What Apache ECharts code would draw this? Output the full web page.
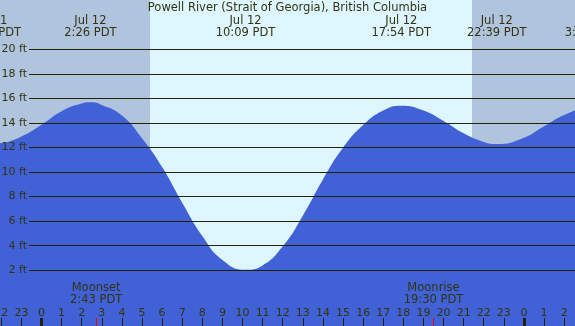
<!DOCTYPE html>
<html>
<head>
<meta charset="utf-8">
<script src="https://cdn.jsdelivr.net/npm/echarts@6/dist/echarts.min.js"></script>
<style>
  html, body { margin: 0; padding: 0; background: #fff; }
  #chart { width: 575px; height: 326px; }
</style>
</head>
<body>
<div id="chart"></div>
<script>
// 潮高曲线（小时，以 7 月 12 日 0 点为 0）
const tideHours = [-3, -2.5, -2, -1, 0, 1, 2, 2.43, 3, 4, 5, 6, 7, 8, 9, 10.15, 11, 12, 13, 14, 15, 16, 17, 17.9, 19, 20, 21, 22, 22.65, 24, 25, 26, 27, 27.33];
const tideHeights = [12.4, 12.3, 12.36, 12.9, 13.85, 14.95, 15.58, 15.67, 15.45, 14.6, 12.75, 10.4, 7.5, 4.8, 2.85, 2.05, 2.4, 3.95, 6.45, 9.4, 11.97, 13.82, 15.0, 15.39, 15.0, 14.15, 13.15, 12.45, 12.28, 12.8, 13.72, 14.64, 15.15, 15.18];

// 高低潮时刻
const extremeDates = ['Jul 11', 'Jul 12', 'Jul 12', 'Jul 12', 'Jul 12', 'Jul 13'];
const extremeTimes = ['21:30', '2:26', '10:09', '17:54', '22:39', '3:20'];
const extremeDays = [-1, 0, 0, 0, 0, 1];

// 日出日落
const sunTimes = ['5:24', '21:25'];

// 月落月出
const moonNames = ['Moonset', 'Moonrise'];
const moonTimes = ['2:43', '19:30'];

// 刻度
const hourTicks = [-2, -1, 0, 1, 2, 3, 4, 5, 6, 7, 8, 9, 10, 11, 12, 13, 14, 15, 16, 17, 18, 19, 20, 21, 22, 23, 24, 25, 26];
const midnightTicks = [0, 24];
const heightMin = 2;
const heightMax = 20;
const heightStep = 2;

const toHour = (t, day) => {
  const [hh, mm] = t.split(':').map(Number);
  return (day || 0) * 24 + hh + mm / 60;
};

const extremeHours = extremeTimes.map((t, i) => toHour(t, extremeDays[i]));
const sunrise = toHour(sunTimes[0]);
const sunset = toHour(sunTimes[1]);
const moonHours = moonTimes.map(t => toHour(t));

// 画布外扩，让边缘的标签也能画出来
const xMin = -4.055;
const xMax = 29.525;
const yMin = -2.53;
const yMax = 24.0;

const textColor = '#333311';
const lineColor = '#22220a';
const nightColor = '#b0c4de';
const dayColor = '#ddf6ff';
const waterColor = '#4162d6';

const chart = echarts.init(document.getElementById('chart'));

const baseX = {
  type: 'value',
  gridIndex: 0,
  min: xMin,
  max: xMax,
  position: 'bottom',
  z: 5,
  axisLine: { show: false },
  splitLine: { show: false },
  axisTick: { show: false },
  axisLabel: { show: false }
};

chart.setOption({
  animation: false,
  textStyle: { fontFamily: 'DejaVu Sans' },
  title: {
    text: 'Powell River (Strait of Georgia), British Columbia',
    left: 'center',
    top: 2,
    padding: 0,
    textStyle: { fontSize: 11.5, fontWeight: 'normal', color: textColor }
  },
  grid: [
    { left: -40, right: -60, top: 0, bottom: 0, outerBoundsMode: 'none', containLabel: false },
    { left: 29, right: 0, top: 49.3, height: 221, outerBoundsMode: 'none', containLabel: false }
  ],
  xAxis: [
    // 数据用的轴
    Object.assign({}, baseX),
    // 整点刻度
    Object.assign({}, baseX, {
      axisTick: {
        show: true, inside: true, length: 8, customValues: hourTicks,
        lineStyle: { color: lineColor, width: 1 }
      },
      axisLabel: {
        show: true, inside: true, margin: 7.5, customValues: hourTicks,
        fontSize: 11, color: textColor, hideOverlap: false,
        formatter: v => String(((Math.round(v) % 24) + 24) % 24)
      }
    }),
    // 午夜
    Object.assign({}, baseX, {
      axisTick: {
        show: true, inside: true, length: 8, customValues: midnightTicks,
        lineStyle: { color: lineColor, width: 3 }
      }
    }),
    // 月落月出
    Object.assign({}, baseX, {
      axisTick: {
        show: true, inside: true, length: 8, customValues: moonHours,
        lineStyle: { color: '#ee0000', width: 1 }
      },
      axisLabel: {
        show: true, inside: true, margin: 19.5, customValues: moonHours,
        fontSize: 11.5, lineHeight: 12, color: textColor,
        formatter: v => {
          const i = moonHours.findIndex(h => Math.abs(h - v) < 1e-6);
          return moonNames[i] + '\n' + moonTimes[i] + ' PDT';
        }
      }
    }),
    // 高低潮标注
    Object.assign({}, baseX, {
      position: 'top',
      axisLabel: {
        show: true, inside: true, margin: 15, customValues: extremeHours,
        fontSize: 11.5, lineHeight: 12, color: textColor,
        formatter: v => {
          const i = extremeHours.findIndex(h => Math.abs(h - v) < 1e-6);
          return extremeDates[i] + '\n' + extremeTimes[i] + ' PDT';
        }
      }
    }),
    { type: 'value', gridIndex: 1, min: 0, max: 1, show: false }
  ],
  yAxis: [
    {
      type: 'value', gridIndex: 0, min: yMin, max: yMax, show: false
    },
    {
      type: 'value', gridIndex: 1, min: heightMin, max: heightMax, interval: heightStep,
      z: 5,
      axisLine: { show: false },
      axisTick: { show: false },
      axisLabel: { margin: 2, fontSize: 11, color: textColor, formatter: '{value} ft' },
      splitLine: { show: true, lineStyle: { color: lineColor, width: 1 } }
    }
  ],
  series: [
    {
      name: 'background',
      type: 'line',
      xAxisIndex: 0,
      yAxisIndex: 0,
      data: [[xMin, yMin]],
      showSymbol: false,
      silent: true,
      z: 1,
      markArea: {
        silent: true,
        data: [
          [{ xAxis: xMin, itemStyle: { color: nightColor } }, { xAxis: sunrise }],
          [{ xAxis: sunrise, itemStyle: { color: dayColor } }, { xAxis: sunset }],
          [{ xAxis: sunset, itemStyle: { color: nightColor } }, { xAxis: xMax }]
        ]
      }
    },
    {
      name: 'tide',
      type: 'line',
      xAxisIndex: 0,
      yAxisIndex: 0,
      z: 2,
      smooth: 0.5,
      showSymbol: false,
      silent: true,
      lineStyle: { width: 0 },
      areaStyle: { color: waterColor, opacity: 1, origin: 'start' },
      data: tideHours.map((h, i) => [h, tideHeights[i]])
    }
  ]
});
</script>
</body>
</html>
